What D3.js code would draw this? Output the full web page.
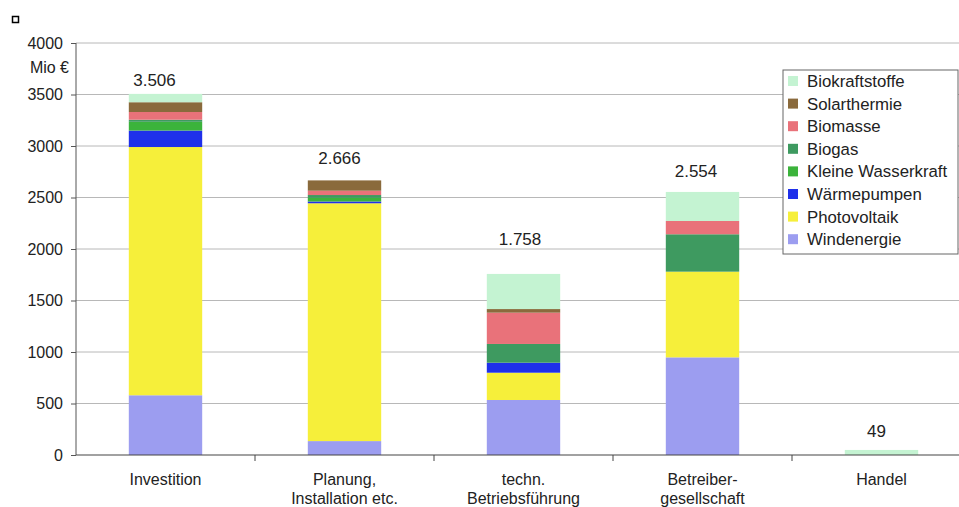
<!DOCTYPE html>
<html>
<head>
<meta charset="utf-8">
<script src="https://cdn.jsdelivr.net/npm/d3@7/dist/d3.min.js"></script>
<style>
  html, body { margin: 0; padding: 0; background: #fff; }
  svg { display: block; font-family: "Liberation Sans", Arial, sans-serif; }
</style>
</head>
<body>
<svg id="chart" width="959" height="507"></svg>
<script>
// Umsatz nach Wertschöpfungsstufe und Technologie (Mio €)
const categories = ["Investition", "Planung,\nInstallation etc.", "techn.\nBetriebsführung", "Betreiber-\ngesellschaft", "Handel"];
const seriesNames = ["Windenergie", "Photovoltaik", "Wärmepumpen", "Kleine Wasserkraft", "Biogas", "Biomasse", "Solarthermie", "Biokraftstoffe"];
const windenergie       = [580, 135, 534, 948, 0];
const photovoltaik      = [2410, 2309, 265, 832, 0];
const waermepumpen      = [160, 17, 97, 0, 0];
const kleineWasserkraft = [85, 35, 0, 0, 0];
const biogas            = [20, 28, 182, 363, 0];
const biomasse          = [75, 42, 304, 129, 0];
const solarthermie      = [95, 100, 35, 0, 0];
const biokraftstoffe    = [81, 0, 341, 282, 49];
const totals = [3506, 2666, 1758, 2554, 49];
const totalLabels = ["3.506", "2.666", "1.758", "2.554", "49"];
const yTicks = [0, 500, 1000, 1500, 2000, 2500, 3000, 3500, 4000];

const colors = {
  "Windenergie": "#9c9df0",
  "Photovoltaik": "#f6ef3a",
  "Wärmepumpen": "#1f30ea",
  "Kleine Wasserkraft": "#3bb33b",
  "Biogas": "#3e9a60",
  "Biomasse": "#e9727a",
  "Solarthermie": "#8a6a3c",
  "Biokraftstoffe": "#c4f3d2"
};

const seriesValues = [windenergie, photovoltaik, waermepumpen, kleineWasserkraft, biogas, biomasse, solarthermie, biokraftstoffe];
const table = categories.map((c, i) => {
  const row = { category: c };
  seriesNames.forEach((s, j) => row[s] = seriesValues[j][i]);
  return row;
});

const svg = d3.select("#chart");
const x = d3.scaleBand().domain(categories).range([76, 971]).paddingInner(0.59).paddingOuter(0.295);
const y = d3.scaleLinear().domain([0, 4000]).range([455, 43]);

// grid
svg.append("g").selectAll("line").data(yTicks.filter(t => t > 0)).join("line")
  .attr("x1", 76).attr("x2", 959)
  .attr("y1", d => y(d)).attr("y2", d => y(d))
  .attr("stroke", "#b8b8b8").attr("stroke-width", 1);

// stacked bars
const stack = d3.stack().keys(seriesNames)(table);
svg.append("g").selectAll("g").data(stack).join("g")
  .attr("fill", d => colors[d.key])
  .selectAll("rect").data(d => d).join("rect")
  .attr("x", d => x(d.data.category))
  .attr("width", x.bandwidth())
  .attr("y", d => y(d[1]))
  .attr("height", d => Math.max(0, y(d[0]) - y(d[1])));

// y axis
const yAxis = svg.append("g").attr("transform", "translate(76,0)")
  .call(d3.axisLeft(y).tickValues(yTicks).tickSize(5).tickPadding(8).tickFormat(d3.format("d")));
yAxis.select(".domain").attr("stroke", "#555").attr("d", "M0,43V455");
yAxis.selectAll(".tick line").attr("stroke", "#555");
yAxis.selectAll("text").attr("font-size", 16).attr("fill", "#222").attr("font-family", "Liberation Sans, Arial, sans-serif");

svg.append("text").attr("x", 69).attr("y", 73).attr("text-anchor", "end")
  .attr("font-size", 16).attr("fill", "#222").text("Mio €");

// x axis
svg.append("line").attr("x1", 76).attr("x2", 959).attr("y1", 455).attr("y2", 455)
  .attr("stroke", "#444").attr("stroke-width", 1.2);
svg.append("g").selectAll("line").data(categories.slice(1)).join("line")
  .attr("x1", d => x(d) - x.step() * x.paddingInner() / 2)
  .attr("x2", d => x(d) - x.step() * x.paddingInner() / 2)
  .attr("y1", 455).attr("y2", 461).attr("stroke", "#444");

const xl = svg.append("g").selectAll("text").data(categories).join("text")
  .attr("x", d => x(d) + x.bandwidth() / 2)
  .attr("y", 485)
  .attr("text-anchor", "middle").attr("font-size", 16).attr("fill", "#222");
xl.selectAll("tspan").data(d => d.split("\n").map(t => ({ t, x: x(d) + x.bandwidth() / 2 }))).join("tspan")
  .attr("x", d => d.x).attr("dy", (d, i) => i === 0 ? 0 : 19).text(d => d.t);

// total labels above bars
const labelOffsets = [[-11, -8], [-5, -16], [-3.5, -29], [-6.5, -14.5], [-5, -12.5]];
svg.append("g").selectAll("text").data(totals).join("text")
  .attr("x", (d, i) => x(categories[i]) + x.bandwidth() / 2 + labelOffsets[i][0])
  .attr("y", (d, i) => y(d) + labelOffsets[i][1])
  .attr("text-anchor", "middle").attr("font-size", 17).attr("fill", "#222")
  .text((d, i) => totalLabels[i]);

// legend
const legend = svg.append("g").attr("transform", "translate(783,70)");
legend.append("rect").attr("width", 175).attr("height", 184)
  .attr("fill", "#fff").attr("stroke", "#666").attr("stroke-width", 1);
const legendOrder = seriesNames.slice().reverse();
const li = legend.selectAll("g").data(legendOrder).join("g")
  .attr("transform", (d, i) => `translate(5,${11 + i * 22.6})`);
li.append("rect").attr("x", 0).attr("y", -5).attr("width", 10).attr("height", 10)
  .attr("fill", d => colors[d]);
li.append("text").attr("x", 19).attr("y", 6).attr("font-size", 16.8).attr("fill", "#222").text(d => d);

// small marker top-left
svg.append("rect").attr("x", 12.5).attr("y", 16.5).attr("width", 6).attr("height", 6)
  .attr("fill", "#fff").attr("stroke", "#000").attr("stroke-width", 1.5);
</script>
</body>
</html>
